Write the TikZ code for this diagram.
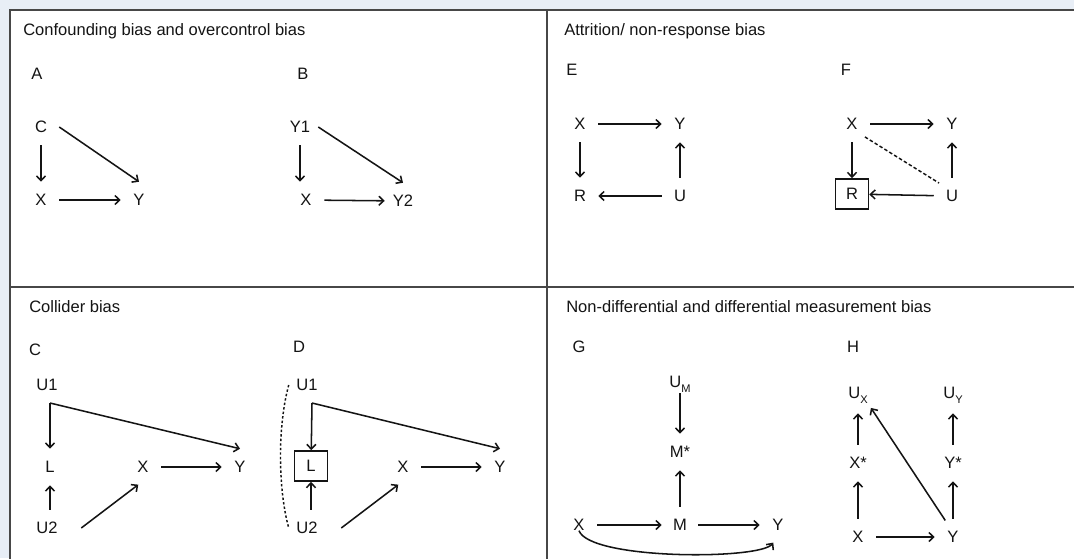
\documentclass[tikz,border=0pt]{standalone}
\usepackage{fontspec}
\setmainfont{Liberation Sans}
\usepackage{tikz}
\usetikzlibrary{arrows,arrows.meta}
\definecolor{bgblue}{RGB}{232,238,246}
\definecolor{ink}{RGB}{20,20,20}
\newcommand{\lowsub}[1]{\raisebox{-3.7pt}{\fontsize{8.3}{9}\selectfont #1}}

\begin{document}
\begin{tikzpicture}[x=0.75pt,y=0.75pt,yscale=-1,xscale=1,
  font=\fontsize{12.4}{15}\selectfont,
  >={Straight Barb[length=3.6pt,width=6.8pt]},
  var/.style={circle,inner sep=0pt,minimum size=27pt,text=ink},
  boxvar/.style={draw=ink,line width=1.2pt,inner sep=0pt,minimum width=24.75pt,minimum height=22.5pt,text=ink},
  lbl/.style={inner sep=0.75pt,text=ink},
  link/.style={->,draw=ink,line width=1.15pt},
  panel/.style={draw=black!72,line width=1.5pt}]
\useasboundingbox (0,0) rectangle (1074,558);

%Shape: Rectangle [background]
\fill[bgblue] (0,0) rectangle (1074,558);
\filldraw[fill=white,panel] (9.5,10) rectangle (1085,570);
%Straight Lines [dividers]
\draw[panel] (547,10) -- (547,570);
\draw[panel] (9.5,287) -- (1085,287);

% Text Node
\node[lbl,anchor=base west] (tA) at (22,35) {Confounding bias and overcontrol bias};
\node[lbl,anchor=base west] (tE) at (563,35) {Attrition/ non-response bias};
\node[lbl,anchor=base west] (tC) at (28,312) {Collider bias};
\node[lbl,anchor=base west] (tG) at (565,312) {Non-differential and differential measurement bias};

% Text Node
\node[lbl] (pA) at (37,74) {A};
\node[lbl] (pB) at (303,74) {B};
\node[lbl] (pE) at (572,70) {E};
\node[lbl] (pF) at (846,70) {F};
\node[lbl] (pC) at (35,350) {C};
\node[lbl] (pD) at (299,347) {D};
\node[lbl] (pG) at (579,347) {G};
\node[lbl] (pH) at (853,347) {H};

%Panel A
\node[var] (aC) at (41,127) {C};
\node[var] (aX) at (41,200) {X};
\node[var] (aY) at (139,200) {Y};
\draw[link] (aC) -- (aX);
\draw[link] (aX) -- (aY);
\draw[link] (aC.east) -- (aY.north);

%Panel B
\node[var] (bY1) at (300,127) {Y1};
\node[var] (bX) at (306,200) {X};
\node[var] (bY2) at (403,201) {Y2};
\draw[link] (bY1.south) -- (bY1.south |- bX.north);
\draw[link] (bX) -- (bY2);
\draw[link] (bY1.east) -- (bY2.north);

%Panel E
\node[var] (eX) at (580,124) {X};
\node[var] (eY) at (680,124) {Y};
\node[var] (eR) at (580,196) {R};
\node[var] (eU) at (680,196) {U};
\draw[link] (eX) -- (eY);
\draw[link] (eX) -- (eR);
\draw[link] (eU) -- (eY);
\draw[link] (eU) -- (eR);

%Panel F
\node[var] (fX) at (852,124) {X};
\node[var] (fY) at (952,124) {Y};
\node[boxvar] (fR) at (852,194) {R};
\node[var] (fU) at (952,196) {U};
\draw[link] (fX) -- (fY);
\draw[link] (fX) -- (fR);
\draw[link] (fU) -- (fY);
\draw[link] (fU) -- (fR);
\draw[draw=ink,line width=1.1pt,dash pattern=on 2.6pt off 1.7pt] (fX.south east) -- (fU.north west);

%Panel C
\node[var] (cU1) at (47,385) {U1};
\coordinate (cb) at (50,403);
\node[var] (cL) at (50,467) {L};
\node[var] (cX) at (143,467) {X};
\node[var] (cY) at (240,467) {Y};
\node[var] (cU2) at (47,528) {U2};
\draw[link] (cb) -- (cL);
\draw[link] (cb) -- (cY.north);
\draw[link] (cL |- cU2.north) -- (cL.south);
\draw[link] (cX) -- (cY);
\draw[link] ([xshift=12pt]cU2.east) -- (cX.255);

%Panel D
\node[var] (dU1) at (307,385) {U1};
\coordinate (db) at (312,403);
\node[boxvar] (dL) at (311,466) {L};
\node[var] (dX) at (403,467) {X};
\node[var] (dY) at (500,467) {Y};
\node[var] (dU2) at (307,528) {U2};
\draw[link] (db) -- (dL);
\draw[link] (db) -- (dY.north);
\draw[link] (dL |- dU2.north) -- (dL.south);
\draw[link] (dX) -- (dY);
\draw[link] ([xshift=12pt]dU2.east) -- (dX.255);
\draw[draw=ink,line width=1.1pt,dash pattern=on 1.8pt off 1.6pt] (dU1.west) .. controls +(-11,40) and +(-11,-40) .. (dU2.west);

%Panel G
\node[lbl] (gUM) at (680,384) {U\lowsub{M}};
\node[var] (gMs) at (680,452) {M*};
\node[var] (gX) at (579,525) {X};
\node[var] (gM) at (680,525) {M};
\node[var] (gY) at (778,525) {Y};
\draw[link] (gUM.south) -- (gMs);
\draw[link] (gM) -- (gMs);
\draw[link] (gX) -- (gM);
\draw[link] (gM) -- (gY);
\draw[link] (gX.base) .. controls (590,560) and (760,560) .. (gY.255);

%Panel H
\node[var] (hUX) at (858,395) {U\lowsub{X}};
\node[var] (hUY) at (953,395) {U\lowsub{Y}};
\node[var] (hXs) at (858,463) {X*};
\node[var] (hYs) at (953,463) {Y*};
\node[var] (hX) at (858,537) {X};
\node[var] (hY) at (953,537) {Y};
\draw[link] (hXs) -- (hUX);
\draw[link] (hX) -- (hXs);
\draw[link] (hYs) -- (hUY);
\draw[link] (hY) -- (hYs);
\draw[link] (hX) -- (hY);
\draw[link] (hY.115) -- (hUX.south east);

\end{tikzpicture}
\end{document}
